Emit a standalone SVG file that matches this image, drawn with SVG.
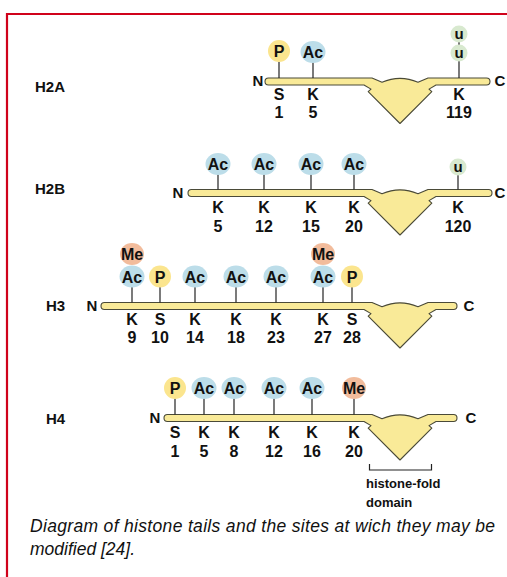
<svg xmlns="http://www.w3.org/2000/svg" width="507" height="577" viewBox="0 0 507 577">
<style>
.t{font-family:"Liberation Sans",Arial,sans-serif;font-weight:bold;fill:#111;text-anchor:middle}
.lb{font-size:16px}
.rl{font-family:"Liberation Sans",Arial,sans-serif;font-weight:bold;font-size:15px;fill:#111}
.nc{font-family:"Liberation Sans",Arial,sans-serif;font-weight:bold;font-size:15px;fill:#111;text-anchor:middle}
.tail{fill:#f9ea98;stroke:#4a4a38;stroke-width:1.1;stroke-linejoin:round}
.stem{stroke:#222;stroke-width:1.2}
.ac{fill:#bcdde9}
.p{fill:#fbe58e}
.me{fill:#f2bc9c}
.u{fill:#d8e9cf}
.cap{font-family:"Liberation Sans",Arial,sans-serif;font-style:italic;font-size:17.5px;fill:#111}
.dom{font-family:"Liberation Sans",Arial,sans-serif;font-weight:bold;font-size:13px;fill:#111}
</style>
<rect width="507" height="577" fill="#fff"/>
<path d="M7,577 V14 H507" fill="none" stroke="#d0021b" stroke-width="2.2"/>

<g id="H2A">
<text class="rl" x="35" y="92">H2A</text>
<path class="tail" transform="translate(0,81.5)" d="M268.5,-3.5 H372 L382,0.8 A45 45 0 0 1 418,0.8 L428,-3.5 H486.5 A3.5 3.5 0 0 1 486.5,3.5 H436 L429,7.6 A45 45 0 0 1 431.8,10.2 L400,42 L368.2,10.2 A45 45 0 0 1 371,7.6 L364,3.5 H268.5 A3.5 3.5 0 0 1 268.5,-3.5 Z"/>
<text class="nc" x="258" y="86">N</text>
<text class="nc" x="500" y="86">C</text>
<line class="stem" x1="279" y1="62" x2="279" y2="78"/>
<line class="stem" x1="313" y1="62" x2="313" y2="78"/>
<line class="stem" x1="459" y1="60" x2="459" y2="78"/>
<line class="stem" x1="459" y1="41" x2="459" y2="46"/>
<circle class="p" cx="279" cy="51" r="11"/>
<text class="t lb" x="279" y="57">P</text>
<ellipse class="ac" cx="313" cy="52" rx="12.5" ry="11"/>
<text class="t lb" x="313" y="58">Ac</text>
<circle class="u" cx="459" cy="34" r="8.5"/>
<text class="t" font-size="15" x="459" y="38.5">u</text>
<circle class="u" cx="459" cy="53" r="8.5"/>
<text class="t" font-size="15" x="459" y="57.5">u</text>
<text class="t lb" x="279" y="100">S</text>
<text class="t lb" x="279" y="118">1</text>
<text class="t lb" x="313" y="100">K</text>
<text class="t lb" x="313" y="118">5</text>
<text class="t lb" x="459" y="100">K</text>
<text class="t lb" x="459" y="118">119</text>
</g>

<g id="H2B">
<text class="rl" x="35" y="194">H2B</text>
<path class="tail" transform="translate(0,193)" d="M191.5,-3.5 H372 L382,0.8 A45 45 0 0 1 418,0.8 L428,-3.5 H488.5 A3.5 3.5 0 0 1 488.5,3.5 H436 L429,7.6 A45 45 0 0 1 431.8,10.2 L400,42 L368.2,10.2 A45 45 0 0 1 371,7.6 L364,3.5 H191.5 A3.5 3.5 0 0 1 191.5,-3.5 Z"/>
<text class="nc" x="178" y="198">N</text>
<text class="nc" x="500" y="198">C</text>
<line class="stem" x1="218" y1="174" x2="218" y2="189.5"/>
<line class="stem" x1="264" y1="174" x2="264" y2="189.5"/>
<line class="stem" x1="311" y1="174" x2="311" y2="189.5"/>
<line class="stem" x1="354" y1="174" x2="354" y2="189.5"/>
<line class="stem" x1="458" y1="175" x2="458" y2="189.5"/>
<ellipse class="ac" cx="218" cy="164" rx="12.5" ry="11"/>
<text class="t lb" x="218" y="170">Ac</text>
<ellipse class="ac" cx="264" cy="164" rx="12.5" ry="11"/>
<text class="t lb" x="264" y="170">Ac</text>
<ellipse class="ac" cx="311" cy="164" rx="12.5" ry="11"/>
<text class="t lb" x="311" y="170">Ac</text>
<ellipse class="ac" cx="354" cy="164" rx="12.5" ry="11"/>
<text class="t lb" x="354" y="170">Ac</text>
<circle class="u" cx="458" cy="167" r="8.5"/>
<text class="t" font-size="15" x="458" y="171.5">u</text>
<text class="t lb" x="218" y="213">K</text>
<text class="t lb" x="218" y="232">5</text>
<text class="t lb" x="264" y="213">K</text>
<text class="t lb" x="264" y="232">12</text>
<text class="t lb" x="311" y="213">K</text>
<text class="t lb" x="311" y="232">15</text>
<text class="t lb" x="354" y="213">K</text>
<text class="t lb" x="354" y="232">20</text>
<text class="t lb" x="458" y="213">K</text>
<text class="t lb" x="458" y="232">120</text>
</g>

<g id="H3">
<text class="rl" x="46" y="311">H3</text>
<path class="tail" transform="translate(0,306)" d="M104.5,-3.5 H372 L382,0.8 A45 45 0 0 1 418,0.8 L428,-3.5 H453.5 A3.5 3.5 0 0 1 453.5,3.5 H436 L429,7.6 A45 45 0 0 1 431.8,10.2 L400,42 L368.2,10.2 A45 45 0 0 1 371,7.6 L364,3.5 H104.5 A3.5 3.5 0 0 1 104.5,-3.5 Z"/>
<text class="nc" x="92" y="311">N</text>
<text class="nc" x="469" y="311">C</text>
<line class="stem" x1="132" y1="287" x2="132" y2="302.5"/>
<line class="stem" x1="160" y1="287" x2="160" y2="302.5"/>
<line class="stem" x1="195" y1="287" x2="195" y2="302.5"/>
<line class="stem" x1="236" y1="287" x2="236" y2="302.5"/>
<line class="stem" x1="276" y1="287" x2="276" y2="302.5"/>
<line class="stem" x1="323" y1="287" x2="323" y2="302.5"/>
<line class="stem" x1="352" y1="287" x2="352" y2="302.5"/>
<ellipse class="me" cx="132" cy="254" rx="12" ry="11"/>
<text class="t lb" x="132" y="260">Me</text>
<ellipse class="ac" cx="132" cy="276.5" rx="12.5" ry="11"/>
<text class="t lb" x="132" y="282.5">Ac</text>
<circle class="p" cx="160" cy="276.5" r="11"/>
<text class="t lb" x="160" y="282.5">P</text>
<ellipse class="ac" cx="195" cy="276.5" rx="12.5" ry="11"/>
<text class="t lb" x="195" y="282.5">Ac</text>
<ellipse class="ac" cx="236" cy="276.5" rx="12.5" ry="11"/>
<text class="t lb" x="236" y="282.5">Ac</text>
<ellipse class="ac" cx="276" cy="276.5" rx="12.5" ry="11"/>
<text class="t lb" x="276" y="282.5">Ac</text>
<ellipse class="me" cx="323" cy="254" rx="12" ry="11"/>
<text class="t lb" x="323" y="260">Me</text>
<ellipse class="ac" cx="323" cy="276.5" rx="12.5" ry="11"/>
<text class="t lb" x="323" y="282.5">Ac</text>
<circle class="p" cx="352" cy="276.5" r="11"/>
<text class="t lb" x="352" y="282.5">P</text>
<text class="t lb" x="132" y="325">K</text>
<text class="t lb" x="132" y="343">9</text>
<text class="t lb" x="160" y="325">S</text>
<text class="t lb" x="160" y="343">10</text>
<text class="t lb" x="195" y="325">K</text>
<text class="t lb" x="195" y="343">14</text>
<text class="t lb" x="236" y="325">K</text>
<text class="t lb" x="236" y="343">18</text>
<text class="t lb" x="276" y="325">K</text>
<text class="t lb" x="276" y="343">23</text>
<text class="t lb" x="323" y="325">K</text>
<text class="t lb" x="323" y="343">27</text>
<text class="t lb" x="352" y="325">S</text>
<text class="t lb" x="352" y="343">28</text>
</g>

<g id="H4">
<text class="rl" x="46" y="424">H4</text>
<path class="tail" transform="translate(0,418)" d="M167.5,-3.5 H372 L382,0.8 A45 45 0 0 1 418,0.8 L428,-3.5 H453.5 A3.5 3.5 0 0 1 453.5,3.5 H436 L429,7.6 A45 45 0 0 1 431.8,10.2 L400,42 L368.2,10.2 A45 45 0 0 1 371,7.6 L364,3.5 H167.5 A3.5 3.5 0 0 1 167.5,-3.5 Z"/>
<text class="nc" x="155" y="423">N</text>
<text class="nc" x="471" y="423">C</text>
<line class="stem" x1="175" y1="398" x2="175" y2="414.5"/>
<line class="stem" x1="204" y1="398" x2="204" y2="414.5"/>
<line class="stem" x1="234" y1="398" x2="234" y2="414.5"/>
<line class="stem" x1="274" y1="398" x2="274" y2="414.5"/>
<line class="stem" x1="312" y1="398" x2="312" y2="414.5"/>
<line class="stem" x1="354" y1="398" x2="354" y2="414.5"/>
<circle class="p" cx="175" cy="388" r="11"/>
<text class="t lb" x="175" y="394">P</text>
<ellipse class="ac" cx="204" cy="388" rx="12.5" ry="11"/>
<text class="t lb" x="204" y="394">Ac</text>
<ellipse class="ac" cx="234" cy="388" rx="12.5" ry="11"/>
<text class="t lb" x="234" y="394">Ac</text>
<ellipse class="ac" cx="274" cy="388" rx="12.5" ry="11"/>
<text class="t lb" x="274" y="394">Ac</text>
<ellipse class="ac" cx="312" cy="388" rx="12.5" ry="11"/>
<text class="t lb" x="312" y="394">Ac</text>
<ellipse class="me" cx="354" cy="388" rx="12" ry="11"/>
<text class="t lb" x="354" y="394">Me</text>
<text class="t lb" x="175" y="438">S</text>
<text class="t lb" x="175" y="457">1</text>
<text class="t lb" x="204" y="438">K</text>
<text class="t lb" x="204" y="457">5</text>
<text class="t lb" x="234" y="438">K</text>
<text class="t lb" x="234" y="457">8</text>
<text class="t lb" x="274" y="438">K</text>
<text class="t lb" x="274" y="457">12</text>
<text class="t lb" x="312" y="438">K</text>
<text class="t lb" x="312" y="457">16</text>
<text class="t lb" x="354" y="438">K</text>
<text class="t lb" x="354" y="457">20</text>
</g>

<g id="domain">
<path d="M369.5,464 V470 H431.5 V464" fill="none" stroke="#222" stroke-width="1.2"/>
<text class="dom" x="366" y="488">histone-fold</text>
<text class="dom" x="366" y="507">domain</text>
</g>

<g id="caption">
<text class="cap" x="30" y="532" textLength="465" lengthAdjust="spacing">Diagram of histone tails and the sites at wich they may be</text>
<text class="cap" x="30" y="555">modified [24].</text>
</g>
</svg>
